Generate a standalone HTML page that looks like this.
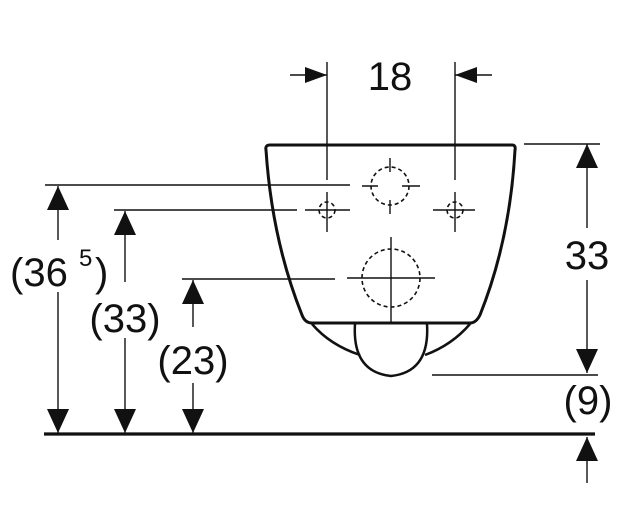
<!DOCTYPE html>
<html><head><style>body{margin:0;background:#fff}svg{display:block}text{font-family:"Liberation Sans",sans-serif;fill:#111}</style></head>
<body>
<svg width="632" height="527" viewBox="0 0 632 527" xmlns="http://www.w3.org/2000/svg">
<g stroke="#111" fill="none">
<!-- body outline -->
<path d="M270,145 L512,145 Q516,145 515,150 Q510,240 480,315 Q476,323 470,323 L312,323 Q305,323 302,315 Q272,240 266,150 Q265,145 270,145 Z" stroke-width="3"/>
<path d="M312,324 Q330,345 360,355 M470,324 Q452,345 425,355" stroke-width="2.5"/>
<path d="M355,324 Q352,372 391,376 Q430,372 427,324" stroke-width="2.5"/>
<!-- circles -->
<g stroke-width="1.6" stroke-dasharray="4,3">
<circle cx="390" cy="186" r="19"/>
<circle cx="327" cy="210" r="8"/>
<circle cx="455" cy="210" r="8"/>
<circle cx="391" cy="278" r="29"/>
</g>
<g stroke-width="1.4">
<path d="M362,186 H378 M402,186 H420 M390,158 V172 M390,200 V214"/>
<path d="M305,210 H350 M327,192 V232 M433,210 H475 M455,192 V232"/>
<path d="M347,278 H435 M391,237 V323"/>
<!-- extension lines -->
<path d="M45,185 H350 M114,210 H297 M182,279 H335"/>
<path d="M327,62 V180 M455,62 V180"/>
<path d="M524,144 H600 M432,375 H598"/>
<!-- dimension lines -->
<path d="M290,75 H327 M455,75 H492"/>
<path d="M58,186 V240 M58,292 V433"/>
<path d="M125,211 V282 M125,338 V433"/>
<path d="M193,280 V327 M193,383 V433"/>
<path d="M587,144 V228 M587,280 V373 M587,437 V483"/>
</g>
<path d="M44,434 H595" stroke-width="3.2"/>
</g>
<g fill="#111">
<polygon points="327,75 305,67 305,83"/>
<polygon points="455,75 477,67 477,83"/>
<polygon points="58,186 47,210 69,210"/><polygon points="58,433 47,409 69,409"/>
<polygon points="125,211 114,235 136,235"/><polygon points="125,433 114,409 136,409"/>
<polygon points="193,280 182,304 204,304"/><polygon points="193,433 182,409 204,409"/>
<polygon points="587,144 576,168 598,168"/><polygon points="587,373 576,349 598,349"/>
<polygon points="587,437 576,461 598,461"/>
</g>
<text x="390" y="90" font-size="40" text-anchor="middle">18</text>
<text x="587" y="269" font-size="40" text-anchor="middle">33</text>
<text x="588" y="414" font-size="40" text-anchor="middle">(9)</text>
<text x="10" y="286" font-size="40">(36</text>
<text x="79" y="266" font-size="24">5</text>
<text x="95" y="286" font-size="40">)</text>
<text x="125" y="332" font-size="40" text-anchor="middle">(33)</text>
<text x="193" y="374" font-size="40" text-anchor="middle">(23)</text>
</svg>
</body></html>
